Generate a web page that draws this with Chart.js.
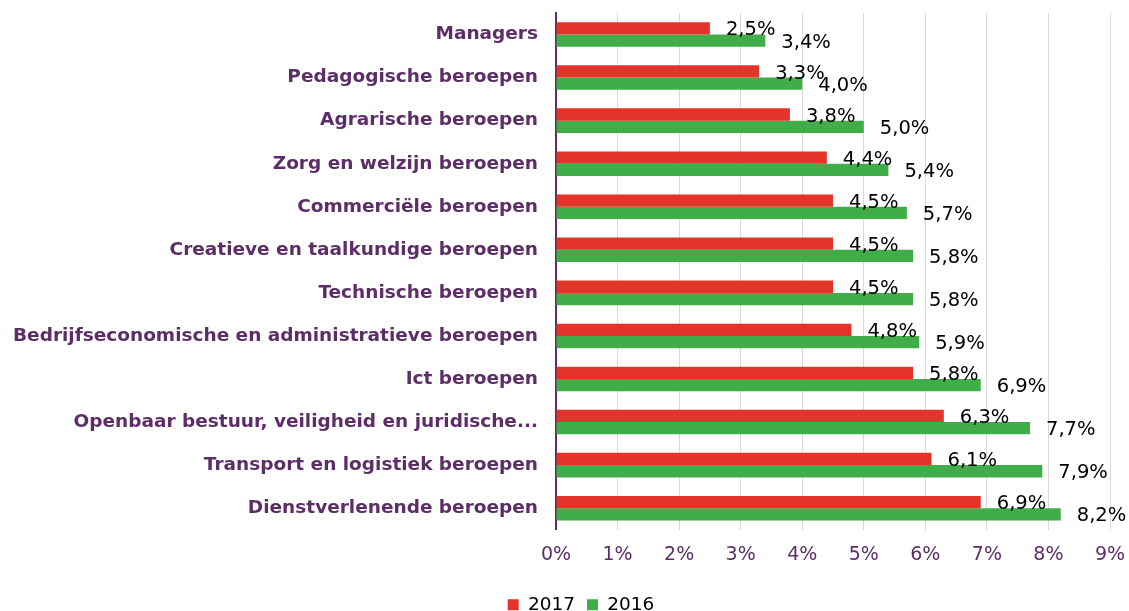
<!DOCTYPE html>
<html>
<head>
<meta charset="utf-8">
<script src="https://cdn.jsdelivr.net/npm/chart.js@4/dist/chart.umd.min.js"></script>
<style>
    html, body { margin: 0; padding: 0; background: #fff; }
    #wrap { width: 1129px; height: 611px; }
</style>
</head>
<body>
<div id="wrap"><canvas id="chart"></canvas></div>
<script>
// Data

const categories = [
    "Managers",
    "Pedagogische beroepen",
    "Agrarische beroepen",
    "Zorg en welzijn beroepen",
    "Commerciële beroepen",
    "Creatieve en taalkundige beroepen",
    "Technische beroepen",
    "Bedrijfseconomische en administratieve beroepen",
    "Ict beroepen",
    "Openbaar bestuur, veiligheid en juridische...",
    "Transport en logistiek beroepen",
    "Dienstverlenende beroepen"
];

const values2017 = [2.5, 3.3, 3.8, 4.4, 4.5, 4.5, 4.5, 4.8, 5.8, 6.3, 6.1, 6.9];
const values2016 = [3.4, 4.0, 5.0, 5.4, 5.7, 5.8, 5.8, 5.9, 6.9, 7.7, 7.9, 8.2];

const xTicks = [0, 1, 2, 3, 4, 5, 6, 7, 8, 9];

const purple = "#5c2d67";
const fontFamily = "'DejaVu Sans', Verdana, sans-serif";

// DATA LABELS
const valueLabels = {
    id: "valueLabels",
    afterDatasetsDraw(chart) {
        const ctx = chart.ctx;
        ctx.save();
        ctx.font = "19.5px " + fontFamily;
        ctx.fillStyle = "#000";
        ctx.textAlign = "left";
        ctx.textBaseline = "middle";
        chart.data.datasets.forEach((ds, i) => {
            chart.getDatasetMeta(i).data.forEach((bar, j) => {
                const txt = ds.data[j].toFixed(1).replace(".", ",") + "%";
                ctx.fillText(txt, bar.x + 16, bar.y + 2);
            });
        });
        ctx.restore();
    }
};

// LEGEND POSITION (legend sits a bit right of centre in the original)
const legendShift = {
    id: "legendShift",
    afterLayout(chart) {
        const lg = chart.legend;
        lg.left += 26;
        lg.right += 26;
        lg.top += 3;
        lg.bottom += 3;
    }
};

new Chart(document.getElementById("chart"), {
    type: "bar",
    data: {
        labels: categories,
        datasets: [
            {
                label: "2017",
                data: values2017,
                backgroundColor: "#e3342a",
                categoryPercentage: 0.57,
                barPercentage: 1.0
            },
            {
                label: "2016",
                data: values2016,
                backgroundColor: "#41ad49",
                categoryPercentage: 0.57,
                barPercentage: 1.0
            }
        ]
    },
    options: {
        indexAxis: "y",
        responsive: true,
        maintainAspectRatio: false,
        animation: false,
        layout: { padding: { top: 13, right: 19, left: 0, bottom: -10 } },
        plugins: {
            legend: {
                position: "bottom",
                labels: {
                    boxWidth: 11,
                    boxHeight: 11,
                    padding: 12,
                    color: "#000",
                    font: { family: fontFamily, size: 18.5 }
                }
            },
            tooltip: { enabled: false }
        },
        scales: {
            x: {
                min: 0,
                max: 9,
                afterBuildTicks: s => { s.ticks = xTicks.map(v => ({ value: v })); },
                afterFit: s => { s.paddingLeft = 0; s.paddingRight = 0; },
                ticks: {
                    color: purple,
                    padding: 14,
                    font: { family: fontFamily, size: 19 },
                    callback: v => v + "%"
                },
                grid: { color: "#d9d9d9", drawTicks: false },
                border: { display: false }
            },
            y: {
                afterFit: s => { s.width = 556; s.paddingTop = 0; s.paddingBottom = 0; },
                ticks: {
                    color: purple,
                    padding: 18,
                    font: { family: fontFamily, size: 18.5, weight: "bold" }
                },
                grid: { display: false, drawTicks: false },
                border: { color: purple, width: 2 }
            }
        }
    },
    plugins: [valueLabels, legendShift]
});
</script>
</body>
</html>
